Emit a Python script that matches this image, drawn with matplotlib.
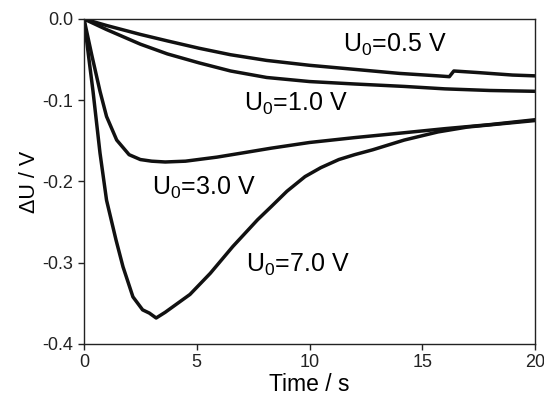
import matplotlib.pyplot as plt

plt.rcParams['font.family'] = ['Liberation Sans', 'DejaVu Sans']
plt.rcParams['axes.unicode_minus'] = False
plt.rcParams['mathtext.fontset'] = 'custom'
plt.rcParams['mathtext.rm'] = 'Liberation Sans'

# U0 = 0.5 V
t05 = [0, 1.0, 2.5, 3.7, 5.1, 6.5, 8.1, 10.0, 12.0, 14.0, 15.7, 16.2, 16.4, 17.5, 19.0, 20.0]
u05 = [0, -0.008, -0.019, -0.027, -0.036, -0.044, -0.051, -0.057, -0.062, -0.067, -0.070, -0.071, -0.064, -0.066, -0.069, -0.070]

# U0 = 1.0 V
t10 = [0, 1.0, 2.5, 3.7, 5.1, 6.5, 8.1, 10.0, 12.0, 14.2, 16.0, 18.0, 20.0]
u10 = [0, -0.013, -0.031, -0.043, -0.054, -0.064, -0.072, -0.077, -0.080, -0.083, -0.086, -0.088, -0.089]

# U0 = 3.0 V
t30 = [0, 0.35, 0.71, 1.0, 1.45, 2.0, 2.5, 3.0, 3.6, 4.5, 5.9, 7.0, 8.3, 10.0, 12.0, 14.2, 16.0, 18.0, 20.0]
u30 = [0, -0.045, -0.089, -0.120, -0.149, -0.167, -0.173, -0.175, -0.176, -0.175, -0.170, -0.165, -0.159, -0.152, -0.146, -0.140, -0.135, -0.130, -0.124]

# U0 = 7.0 V
t70 = [0, 0.2, 0.4, 0.71, 1.0, 1.42, 1.73, 2.17, 2.6, 2.9, 3.2, 3.6, 3.95, 4.7, 5.6, 6.6, 7.7, 8.3, 9.0, 9.8, 10.5, 11.3, 12.0, 12.8, 14.2, 15.7, 17.0, 18.5, 20.0]
u70 = [0, -0.045, -0.089, -0.165, -0.223, -0.272, -0.305, -0.342, -0.358, -0.362, -0.368, -0.361, -0.354, -0.339, -0.313, -0.280, -0.247, -0.231, -0.212, -0.194, -0.183, -0.173, -0.167, -0.161, -0.149, -0.139, -0.133, -0.129, -0.125]

fig = plt.figure(figsize=(5.44, 3.98), dpi=100)
ax = fig.add_axes([0.1544, 0.1357, 0.8291, 0.8166])

lc = '#111111'
for t, u in [(t05, u05), (t10, u10), (t30, u30), (t70, u70)]:
    ax.plot(t, u, color=lc, lw=2.5, solid_joinstyle='round', solid_capstyle='round')

fs = 18
ax.text(11.5, -0.032, 'U$_0$=0.5 V', fontsize=fs, va='center')
ax.text(7.1, -0.105, 'U$_0$=1.0 V', fontsize=fs, va='center')
ax.text(3.0, -0.208, 'U$_0$=3.0 V', fontsize=fs, va='center')
ax.text(7.2, -0.303, 'U$_0$=7.0 V', fontsize=fs, va='center')

ax.set_xlim(0, 20)
ax.set_ylim(-0.4, 0.0)
ax.set_xticks([0, 5, 10, 15, 20])
ax.set_yticks([0.0, -0.1, -0.2, -0.3, -0.4])
ax.set_yticklabels(['0.0', '-0.1', '-0.2', '-0.3', '-0.4'])
ax.tick_params(direction='out', length=4, width=1, labelsize=13, colors='#222222')
ax.set_xlabel('Time / s', fontsize=16.5, labelpad=1)
ax.set_ylabel('\u0394U / V', fontsize=15.5, labelpad=2)
for s in ax.spines.values():
    s.set_linewidth(1)
    s.set_color('#222222')

fig.savefig('out.png', dpi=100)
